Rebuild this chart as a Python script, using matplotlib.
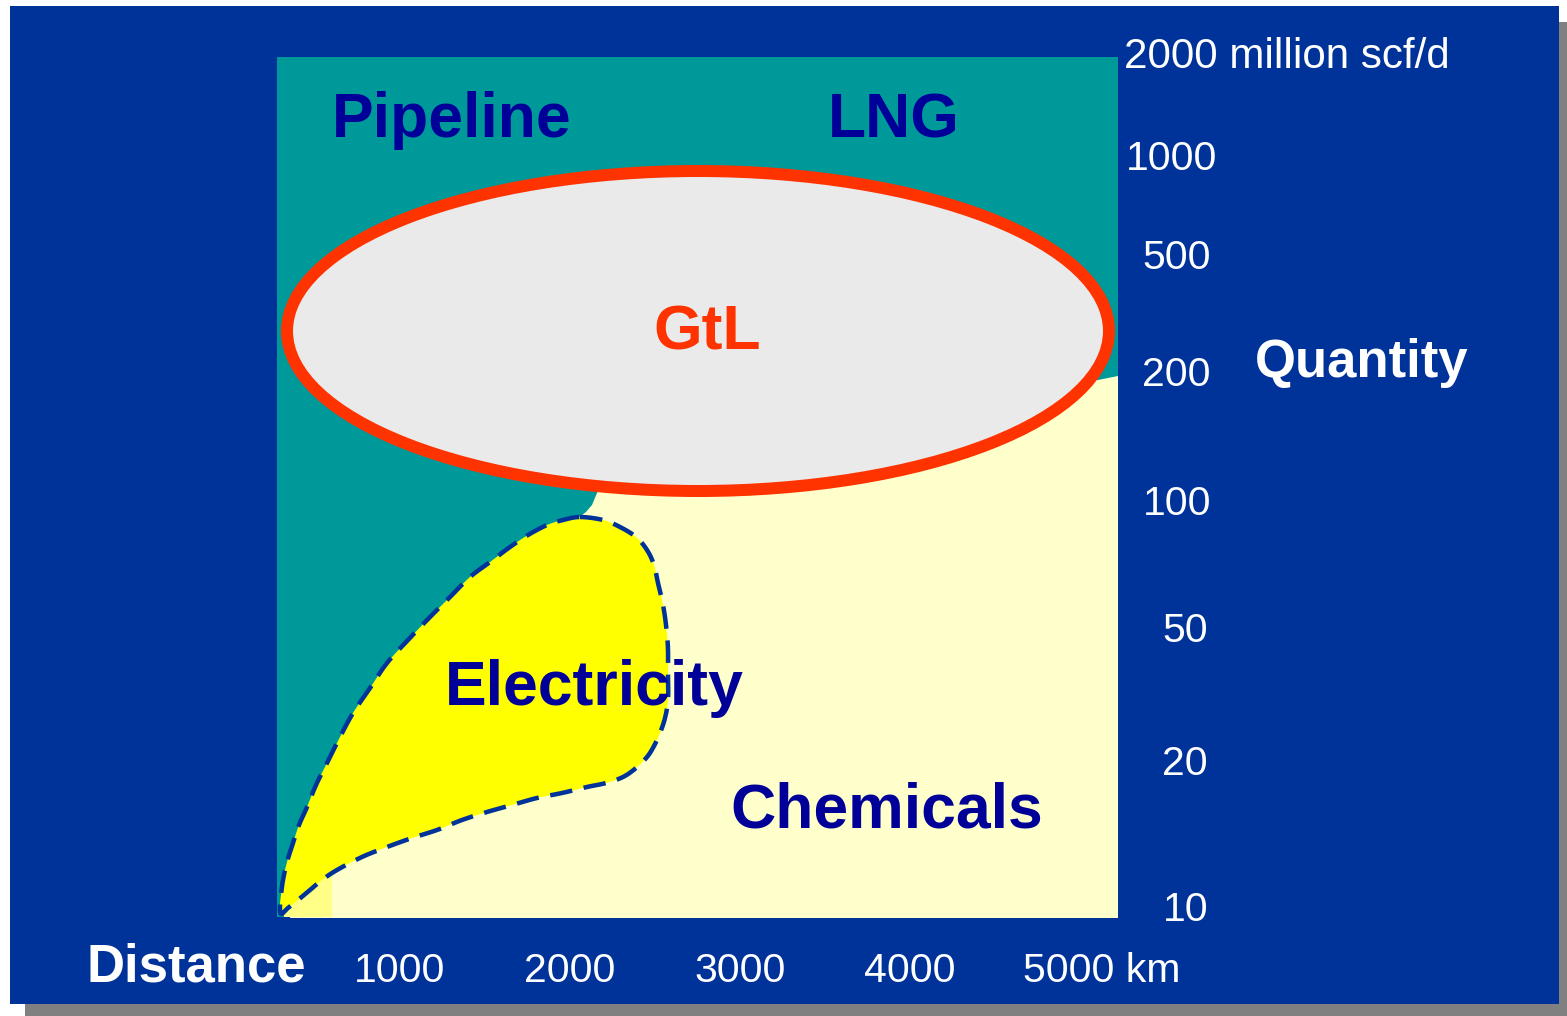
import numpy as np
import matplotlib
matplotlib.use("Agg")
import matplotlib.pyplot as plt
from matplotlib.patches import Rectangle, Ellipse, Polygon

plt.rcParams["font.family"] = ["Liberation Sans", "DejaVu Sans"]

# ---- chart content -------------------------------------------------------
distance_title = "Distance"
distance_labels = ["1000", "2000", "3000", "4000", "5000 km"]

quantity_title = "Quantity"
quantity_labels = ["2000 million scf/d", "1000", "500", "200",
                   "100", "50", "20", "10"]

region_names = ["Pipeline", "LNG", "GtL", "Electricity", "Chemicals"]

# ---- canvas layout (pixels, y grows downward) ----------------------------
W, H = 1567, 1016
panel = (10, 6, 1559, 1004)          # blue slide panel: x0, y0, x1, y1
shadow_offset = (15, 16)
plot_box = (277, 57, 1118, 917)      # map area: x0, y0, x1, y1

distance_label_x = [354, 524, 694, 864, 1023]
distance_label_y = 982
distance_title_xy = (86, 982)

quantity_label_x = [1124, 1126, 1142, 1142, 1143, 1162, 1162, 1163]
quantity_label_y = [68, 170, 269, 386, 515, 642, 775, 921]
quantity_label_size = [30.3, 29.5, 29.5, 29.5, 29.5, 29.5, 29.5, 29.5]
quantity_title_xy = (1255, 377)

region_text_xy = {
    "Pipeline": (332, 137, "left"),
    "LNG": (828, 137, "left"),
    "GtL": (707, 349, "center"),
    "Electricity": (445, 705, "left"),
    "Chemicals": (730, 828, "left"),
}

# GtL ellipse (centre, width, height)
gtl_center = (698, 331)
gtl_size = (822, 320)

# outline of the electricity lobe, clockwise from its top
elec_x = [580, 603, 620, 636, 647, 654, 658, 662, 665, 667, 668, 668, 668,
          665, 660, 654, 647, 636, 623, 606, 587, 562, 537, 512, 487, 462,
          437, 412, 387, 362, 337, 322, 310, 298, 288, 281,
          280, 281, 283, 287, 293, 299, 307, 316, 327, 340, 353, 370, 387,
          408, 430, 450, 470, 490, 510, 528, 547, 563]
elec_y = [517, 520, 527, 537, 550, 565, 583, 600, 617, 635, 650, 675, 700,
          718, 733, 746, 757, 768, 777, 783, 787, 793, 798, 805, 812, 820,
          830, 838, 847, 857, 870, 880, 890, 900, 908, 914,
          905, 895, 880, 862, 843, 825, 807, 785, 763, 737, 713, 688, 663,
          640, 617, 597, 577, 562, 547, 535, 525, 520]

# boundary of the chemicals (cream) zone
chem_x = [1118, 1118, 290, 300, 400, 500, 560, 578, 586, 592, 597, 610,
          700, 1098]
chem_y = [376, 918, 918, 880, 700, 590, 532, 518, 512, 505, 493, 470,
          420, 380]

# pale patch in the bottom-left corner
corner_patch = (284, 873, 332, 917)

# ---- colours --------------------------------------------------------------
C_BLUE = "#003399"
C_SHADOW = "#808080"
C_TEAL = "#009999"
C_CREAM = "#FFFFCC"
C_YELLOW = "#FFFF00"
C_PALE = "#FFFF88"
C_NAVY = "#000099"
C_RED = "#FF3300"
C_GREY = "#EAEAEA"

px = 0.72  # points per pixel at 100 dpi


def smooth_closed(xs, ys, steps=8):
    """Closed Catmull-Rom curve through the outline vertices."""
    p = np.column_stack([xs, ys]).astype(float)
    n = len(p)
    out = []
    for i in range(n):
        p0, p1, p2, p3 = p[i - 1], p[i], p[(i + 1) % n], p[(i + 2) % n]
        for t in np.linspace(0, 1, steps, endpoint=False):
            t2, t3 = t * t, t * t * t
            out.append(0.5 * ((2 * p1) + (-p0 + p2) * t
                              + (2 * p0 - 5 * p1 + 4 * p2 - p3) * t2
                              + (-p0 + 3 * p1 - 3 * p2 + p3) * t3))
    return np.array(out)


fig = plt.figure(figsize=(W / 100, H / 100), dpi=100)
fig.patch.set_facecolor("white")
ax = fig.add_axes([0, 0, 1, 1])
ax.set_xlim(0, W)
ax.set_ylim(H, 0)
ax.axis("off")

# slide panel with drop shadow
x0, y0, x1, y1 = panel
ax.add_patch(Rectangle((x0 + shadow_offset[0], y0 + shadow_offset[1]),
                       x1 - x0, y1 - y0, facecolor=C_SHADOW, edgecolor="none",
                       zorder=0))
ax.add_patch(Rectangle((x0, y0), x1 - x0, y1 - y0, facecolor=C_BLUE,
                       edgecolor="none", zorder=1))

# map zones
bx0, by0, bx1, by1 = plot_box
ax.add_patch(Rectangle((bx0, by0), bx1 - bx0, by1 - by0, facecolor=C_TEAL,
                       edgecolor="none", zorder=2))
ax.add_patch(Polygon(list(zip(chem_x, chem_y)), closed=True,
                     facecolor=C_CREAM, edgecolor="none", zorder=3))
cx0, cy0, cx1, cy1 = corner_patch
ax.add_patch(Rectangle((cx0, cy0), cx1 - cx0, cy1 - cy0, facecolor=C_PALE,
                       edgecolor="none", zorder=4))

# electricity lobe
elec_curve = smooth_closed(elec_x, elec_y)
ax.add_patch(Polygon(elec_curve, closed=True,
                     facecolor=C_YELLOW, edgecolor="none", zorder=5))
ax.add_patch(Polygon(elec_curve, closed=True,
                     facecolor="none", edgecolor=C_BLUE,
                     linewidth=4.5 * px, linestyle=(0, (5, 2.6)), zorder=7))

# GtL ellipse
ax.add_patch(Ellipse(gtl_center, gtl_size[0], gtl_size[1],
                     facecolor=C_GREY, edgecolor=C_RED,
                     linewidth=12 * px, zorder=8))

# region labels
for name in region_names:
    tx, ty, ha = region_text_xy[name]
    color = C_RED if name == "GtL" else C_NAVY
    ax.text(tx, ty, name, color=color, fontsize=45, fontweight="bold",
            ha=ha, va="baseline", zorder=9)

# axis texts
for lab, lx in zip(distance_labels, distance_label_x):
    ax.text(lx, distance_label_y, lab, color="white", fontsize=29.5,
            ha="left", va="baseline", zorder=9)
ax.text(*distance_title_xy, distance_title, color="white", fontsize=38,
        fontweight="bold", ha="left", va="baseline", zorder=9)

for lab, lx, ly, fs in zip(quantity_labels, quantity_label_x,
                           quantity_label_y, quantity_label_size):
    ax.text(lx, ly, lab, color="white", fontsize=fs, ha="left",
            va="baseline", zorder=9)
ax.text(*quantity_title_xy, quantity_title, color="white", fontsize=38,
        fontweight="bold", ha="left", va="baseline", zorder=9)

fig.savefig("out.png", dpi=100, facecolor="white")
